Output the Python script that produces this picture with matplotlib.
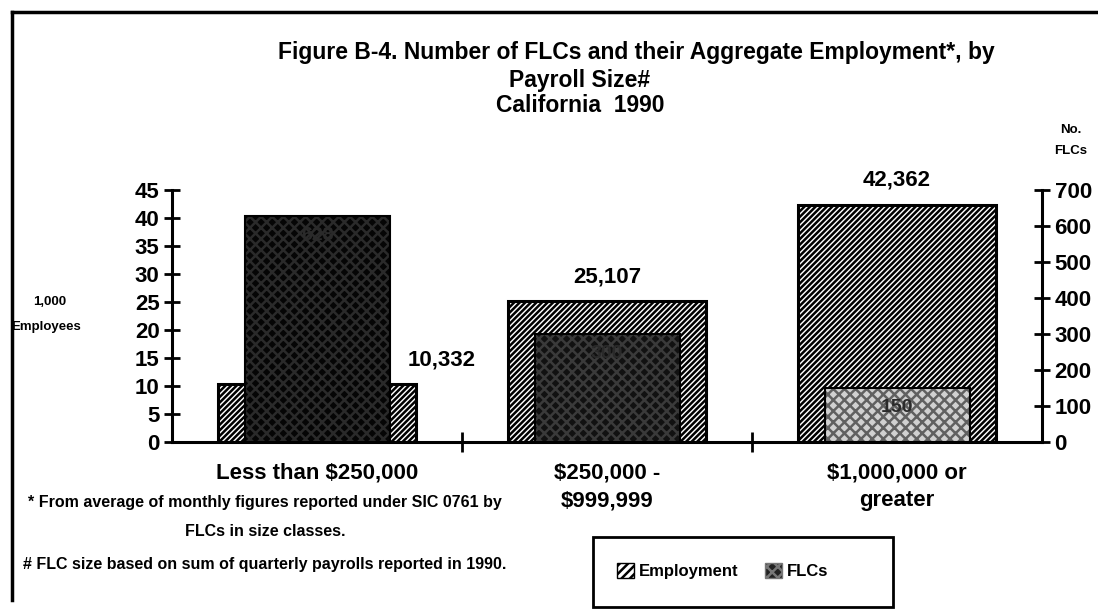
import matplotlib.pyplot as plt
from matplotlib.patches import Patch, Rectangle
from matplotlib.lines import Line2D

plt.rcParams['font.family'] = ['Liberation Sans', 'DejaVu Sans']
plt.rcParams['font.weight'] = 'bold'
plt.rcParams['hatch.linewidth'] = 1.8

# --- data ---
categories = ["Less than $250,000", "$250,000 -\n$999,999", "$1,000,000 or\ngreater"]
employment_k = [10.332, 25.107, 42.362]          # thousands of employees
employment_labels = ["10,332", "25,107", "42,362"]
flcs = [628, 300, 150]                           # number of FLCs
flc_colors = ["#050505", "#111111", "#d0d0d0"]
flc_stipple = ["#2a2a2a", "#3a3a3a", "#606060"]

W, H = 1098, 611
fig = plt.figure(figsize=(W / 100, H / 100), dpi=100)

def fx(px): return px / W
def fy(py): return 1 - py / H

ax = fig.add_axes([fx(172), fy(442), fx(1042) - fx(172), fy(190) - fy(442)])
ax2 = ax.twinx()

x = list(range(len(categories)))
ax.bar(x, employment_k, width=0.68, facecolor="white", edgecolor="black",
       hatch="//////", linewidth=2.2, zorder=2)
for xi, v, c, s in zip(x, flcs, flc_colors, flc_stipple):
    ax2.bar(xi, v, width=0.5, color=c, edgecolor=s, hatch="xxx", linewidth=0, zorder=3)
    ax2.bar(xi, v, width=0.5, facecolor="none", edgecolor="black", linewidth=1.5, zorder=4)
    ax2.annotate(str(v), (xi, v), xytext=(0, -14), textcoords="offset points",
                 ha="center", va="center", fontsize=14, color="#2a2a2a", zorder=5)

# employment labels
ax.annotate(employment_labels[0], (0, employment_k[0]), xytext=(90, 10), textcoords="offset points",
            ha="center", va="bottom", fontsize=16)
for xi in (1, 2):
    ax.annotate(employment_labels[xi], (xi, employment_k[xi]), xytext=(0, 10), textcoords="offset points",
                ha="center", va="bottom", fontsize=16)

ax.set_xlim(-0.5, 2.5)
ax.set_ylim(0, 45)
ax2.set_ylim(0, 700)
ax.set_yticks(range(0, 46, 5))
ax2.set_yticks(range(0, 701, 100))

for a in (ax, ax2):
    a.spines["top"].set_visible(False)
    for s in ("left", "right", "bottom"):
        a.spines[s].set_linewidth(2.2)
ax.spines["right"].set_visible(False)
ax2.spines["left"].set_visible(False)
ax2.spines["bottom"].set_visible(False)

ax.tick_params(axis="y", direction="inout", length=12, width=2, labelsize=16, pad=3)
ax2.tick_params(axis="y", direction="inout", length=12, width=2, labelsize=16, pad=3)
ax.set_xticks([0.5, 1.5])
ax.set_xticklabels([])
ax.tick_params(axis="x", direction="inout", length=14, width=2)
for xi, lab in zip(x, categories):
    ax.text(xi, -0.08, lab, transform=ax.get_xaxis_transform(), ha="center", va="top",
            fontsize=16, linespacing=1.45)

# titles
fig.text(fx(636), fy(52), "Figure B-4. Number of FLCs and their Aggregate Employment*, by",
         ha="center", va="center", fontsize=16.5)
fig.text(fx(580), fy(80), "Payroll Size#", ha="center", va="center", fontsize=16.5)
fig.text(fx(580), fy(106), "California  1990", ha="center", va="center", fontsize=16.5)

fig.text(fx(1071), fy(130), "No.", ha="center", va="center", fontsize=9.5)
fig.text(fx(1071), fy(151), "FLCs", ha="center", va="center", fontsize=9.5)
fig.text(fx(50), fy(302), "1,000", ha="center", va="center", fontsize=9.5)
fig.text(fx(46), fy(327), "Employees", ha="center", va="center", fontsize=9.5)

# footnotes
fig.text(fx(265), fy(502), "* From average of monthly figures reported under SIC 0761 by",
         ha="center", va="center", fontsize=11.5)
fig.text(fx(265), fy(532), "FLCs in size classes.", ha="center", va="center", fontsize=11.5)
fig.text(fx(265), fy(564), "# FLC size based on sum of quarterly payrolls reported in 1990.",
         ha="center", va="center", fontsize=11.5)

# legend box
fig.patches.append(Rectangle((fx(593), fy(607)), fx(893) - fx(593), fy(537) - fy(607),
                             transform=fig.transFigure, facecolor="white", edgecolor="black",
                             linewidth=2))
handles = [Patch(facecolor="white", edgecolor="black", hatch="////", label="Employment"),
           Patch(facecolor="#222222", edgecolor="#777777", hatch="xxx", label="FLCs")]
fig.legend(handles=handles, loc="center left", bbox_to_anchor=(fx(602), fy(571)), ncol=2,
           frameon=False, fontsize=12, handlelength=1.0, handleheight=1.0,
           handletextpad=0.3, columnspacing=1.6)

# outer frame lines
fig.add_artist(Line2D([fx(12), fx(12)], [fy(12), fy(600)], color="black", linewidth=2.5))
fig.add_artist(Line2D([fx(12), fx(1098)], [fy(12), fy(12)], color="black", linewidth=2.5))

fig.savefig("out.png", dpi=100)
